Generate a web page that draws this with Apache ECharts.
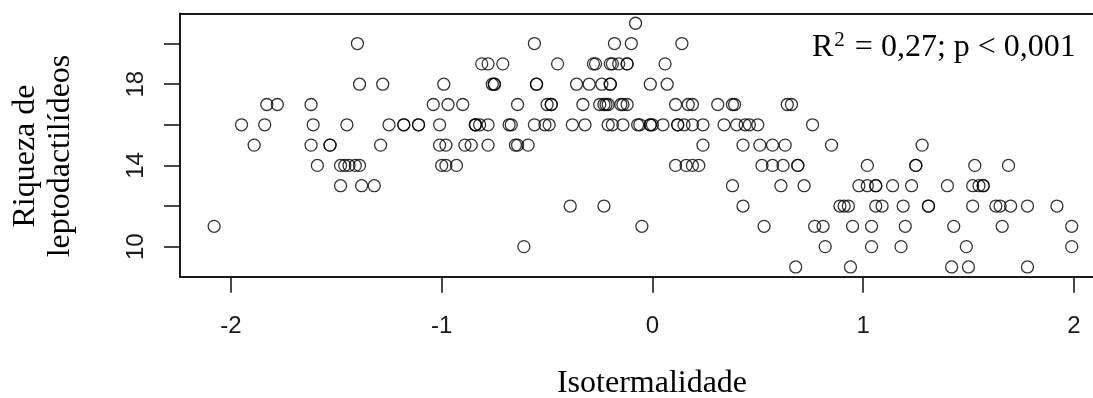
<!DOCTYPE html>
<html>
<head>
<meta charset="utf-8">
<script src="https://cdn.jsdelivr.net/npm/echarts@6/dist/echarts.min.js"></script>
<style>
  html, body { margin: 0; padding: 0; background: #fff; }
  #chart { width: 1093px; height: 398px; }
</style>
</head>
<body>
<div id="chart"></div>
<script>
// isotermalidade values, grouped by richness (riqueza) row
const iso21 = [-0.08]
const iso20 = [-1.40, -0.56, -0.18, -0.10, 0.14]
const iso19 = [-0.81, -0.78, -0.71, -0.45, -0.28, -0.27, -0.20, -0.19, -0.16, -0.12, -0.12, 0.06]
const iso18 = [-1.39, -1.28, -0.99, -0.76, -0.75, -0.75, -0.55, -0.55, -0.36, -0.30, -0.24, -0.20, -0.20, -0.01, 0.07]
const iso17 = [-1.83, -1.78, -1.62, -1.04, -0.97, -0.90, -0.64, -0.50, -0.48, -0.48, -0.33, -0.25, -0.23, -0.22, -0.21,
  -0.15, -0.14, -0.12, 0.11, 0.17, 0.19, 0.31, 0.38, 0.39, 0.64, 0.66]
const iso16 = [-1.95, -1.84, -1.61, -1.45, -1.25, -1.18, -1.18, -1.11, -1.11, -1.01, -0.84, -0.84, -0.84, -0.82, -0.78,
  -0.68, -0.67, -0.56, -0.51, -0.49, -0.38, -0.32, -0.21, -0.19, -0.14, -0.07, -0.06, -0.01, -0.01, 0.00, 0.05,
  0.12, 0.12, 0.15, 0.19, 0.24, 0.34, 0.40, 0.44, 0.46, 0.50, 0.76]
const iso15 = [-1.89, -1.62, -1.53, -1.53, -1.29, -1.01, -0.98, -0.89, -0.86, -0.78, -0.65, -0.64, -0.59,
  0.24, 0.43, 0.51, 0.57, 0.63, 0.85, 1.28]
const iso14 = [-1.59, -1.48, -1.46, -1.44, -1.41, -1.39, -1.00, -0.98, -0.93, 0.11, 0.16, 0.19, 0.22, 0.52, 0.57,
  0.62, 0.69, 0.69, 1.02, 1.25, 1.25, 1.53, 1.69]
const iso13 = [-1.48, -1.38, -1.32, 0.38, 0.61, 0.72, 0.98, 1.02, 1.06, 1.06, 1.14, 1.23, 1.40, 1.52, 1.55, 1.57, 1.57]
const iso12 = [-0.39, -0.23, 0.43, 0.89, 0.91, 0.93, 1.06, 1.09, 1.19, 1.31, 1.31, 1.52, 1.63, 1.65, 1.70, 1.78, 1.92]
const iso11 = [-2.08, -0.05, 0.53, 0.77, 0.81, 0.95, 1.04, 1.20, 1.43, 1.66, 1.99]
const iso10 = [-0.61, 0.82, 1.04, 1.18, 1.49, 1.99]
const iso9 = [0.68, 0.94, 1.42, 1.50, 1.78]

const riquezaRows = [21, 20, 19, 18, 17, 16, 15, 14, 13, 12, 11, 10, 9]
const isoRows = [iso21, iso20, iso19, iso18, iso17, iso16, iso15, iso14, iso13, iso12, iso11, iso10, iso9]

const xTicks = [-2, -1, 0, 1, 2]
const yTicks = [10, 12, 14, 16, 18, 20]
const yLabels = [10, 14, 18]

const points = []
riquezaRows.forEach((r, i) => {
  isoRows[i].forEach((x) => points.push([x, r]))
})

const ink = '#1a1a1a'
const xMin = -2.242
const xMax = 2.091   // plot box runs past the right edge of the picture
const chart = echarts.init(document.getElementById('chart'))

const boxLine = { show: true, onZero: false, lineStyle: { color: ink, width: 2 } }

chart.setOption({
  animation: false,
  grid: {
    left: 180,
    top: 13.5,
    right: 0,
    bottom: 121.3
  },
  xAxis: [
    {
      type: 'value',
      position: 'bottom',
      min: xMin,
      max: xMax,
      splitLine: { show: false },
      axisLine: boxLine,
      axisTick: {
        customValues: xTicks,
        inside: false,
        length: 16,
        lineStyle: { color: ink, width: 1.6 }
      },
      axisLabel: {
        customValues: xTicks,
        margin: 38,
        fontFamily: 'Liberation Sans, Arial, sans-serif',
        fontSize: 24,
        color: ink
      }
    },
    {
      // top edge of the box only
      type: 'value',
      position: 'top',
      min: xMin,
      max: xMax,
      splitLine: { show: false },
      axisLine: boxLine,
      axisTick: { show: false },
      axisLabel: { show: false }
    }
  ],
  yAxis: {
    type: 'value',
    min: 8.52,
    max: 21.48,
    splitLine: { show: false },
    axisLine: boxLine,
    axisTick: {
      customValues: yTicks,
      inside: false,
      length: 16,
      lineStyle: { color: ink, width: 1.6 }
    },
    axisLabel: {
      customValues: yLabels,
      rotate: 90,
      margin: 32,
      fontFamily: 'Liberation Sans, Arial, sans-serif',
      fontSize: 24,
      color: ink
    }
  },
  graphic: [
    {
      type: 'text',
      x: 652,
      y: 384,
      style: {
        text: 'Isotermalidade',
        font: '32px "Liberation Serif", "Times New Roman", serif',
        fill: '#000',
        align: 'center',
        verticalAlign: 'middle'
      }
    },
    {
      type: 'text',
      x: 43.5,
      y: 156,
      rotation: Math.PI / 2,
      style: {
        text: 'Riqueza de\nleptodactilídeos',
        font: '32px "Liberation Serif", "Times New Roman", serif',
        lineHeight: 35,
        fill: '#000',
        align: 'center',
        verticalAlign: 'middle'
      }
    },
    {
      type: 'text',
      x: 812,
      y: 47.5,
      style: {
        text: '{n|R}{s|2}{n| = 0,27; p < 0,001}',
        fill: '#000',
        align: 'left',
        verticalAlign: 'middle',
        rich: {
          n: {
            fontFamily: 'Liberation Serif, Times New Roman, serif',
            fontSize: 32,
            lineHeight: 36
          },
          s: {
            fontFamily: 'Liberation Serif, Times New Roman, serif',
            fontSize: 21,
            lineHeight: 36,
            verticalAlign: 'top',
            padding: [0, 2, 0, 1]
          }
        }
      }
    }
  ],
  series: [
    {
      type: 'scatter',
      xAxisIndex: 0,
      data: points,
      symbol: 'circle',
      symbolSize: 12,
      itemStyle: {
        color: 'rgba(0,0,0,0)',
        borderColor: '#000',
        borderWidth: 1.3
      },
      emphasis: { disabled: true }
    }
  ]
})
</script>
</body>
</html>
